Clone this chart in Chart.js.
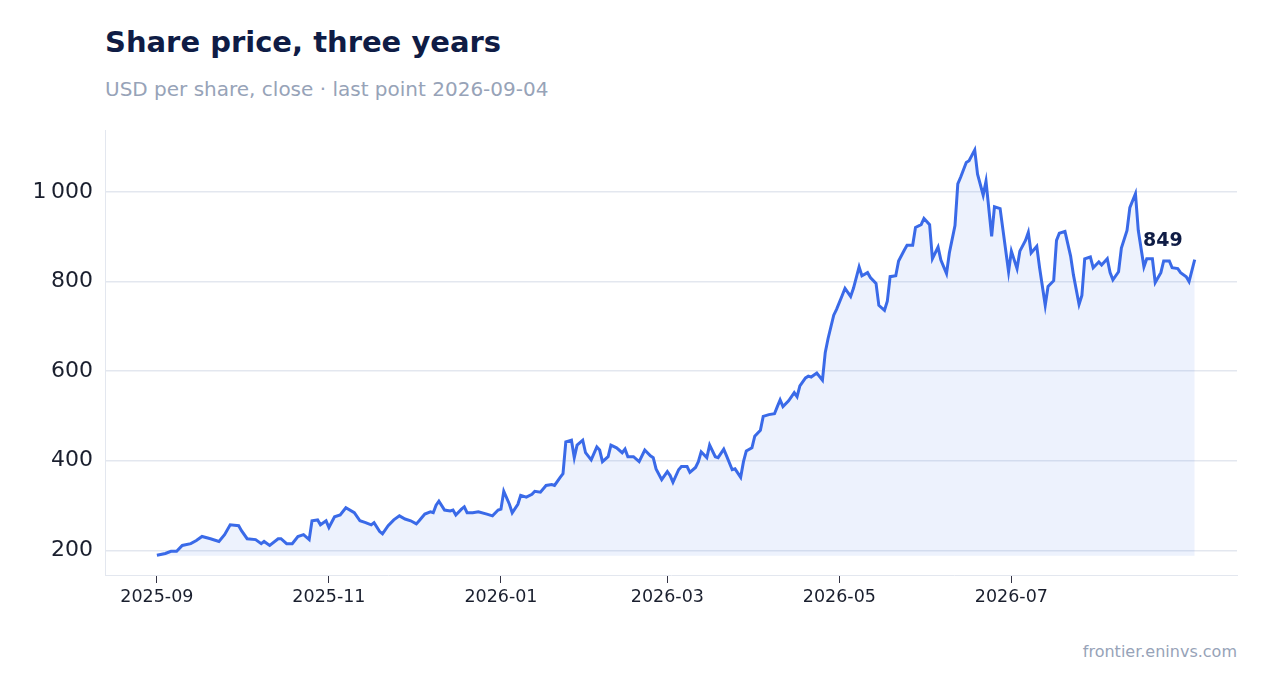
<!DOCTYPE html>
<html>
<head>
<meta charset="utf-8">
<script src="https://cdn.jsdelivr.net/npm/chart.js@4"></script>
<style>
  body { margin: 0; background: #fff; font-family: "DejaVu Sans", sans-serif; }
  #title { position: absolute; left: 105px; top: 25px; font-size: 29px; font-weight: bold; color: #0f1c45; }
  #sub { position: absolute; left: 105px; top: 77px; font-size: 20px; color: #97a3b8; }
  #foot { position: absolute; right: 30px; top: 642px; font-size: 16px; color: #97a3b8; }
  #wrap { position: absolute; left: 0; top: 105px; width: 1267px; height: 518px; }
</style>
</head>
<body>
<div id="title">Share price, three years</div>
<div id="sub">USD per share, close · last point 2026-09-04</div>
<div id="foot">frontier.eninvs.com</div>
<div id="wrap"><canvas id="lineChart1"></canvas></div>
<script>
// days since 2025-09-01
var days = [0,3,5,7,9,12,14,16,19,22,24,26,29,30,32,35,37,38,40,43,44,46,48,50,52,54,55,57,58,60,61,63,65,67,70,72,74,76,77,79,80,82,84,86,88,90,92,93,95,97,98,99,100,102,104,105,106,108,109,110,112,114,117,119,121,122,123,125,126,128,129,131,133,134,136,138,140,141,143,144,145,147,148,149,151,152,154,156,157,158,160,161,163,165,166,167,169,171,173,175,176,177,179,181,182,183,185,186,188,189,191,192,193,195,196,198,199,201,202,204,205,207,208,209,211,212,214,215,217,219,220,221,222,224,226,227,228,230,231,232,234,236,237,238,240,241,243,244,246,247,249,250,252,253,255,256,258,259,260,262,263,265,266,268,269,271,272,274,275,277,278,280,281,283,284,285,287,288,290,291,293,294,296,297,299,300,302,303,305,306,308,309,310,312,313,315,316,318,319,320,322,324,325,327,328,329,331,332,334,335,337,338,339,341,342,344,345,347,348,350,351,353,354,356,357,359,360,362,363,365,366,368];
var prices = [189,193,198,198,211,215,222,231,226,220,235,257,255,244,226,224,215,220,211,226,226,215,215,231,235,224,266,268,257,266,251,275,279,295,284,266,262,257,262,242,237,255,268,277,270,266,259,266,281,286,284,301,310,290,288,290,279,292,297,284,284,286,281,277,290,292,332,303,284,303,323,319,325,332,330,345,347,345,363,371,442,446,407,435,446,418,402,431,424,398,409,435,429,418,426,409,409,398,424,411,407,382,358,376,367,352,380,387,387,374,385,398,420,407,435,409,407,426,411,380,382,363,398,422,429,455,468,499,503,505,521,536,521,534,552,543,567,585,589,587,596,580,642,673,725,738,769,785,767,785,833,813,820,809,796,747,736,756,811,813,846,870,881,881,921,927,941,927,851,877,848,818,864,925,1018,1033,1066,1070,1094,1040,993,1024,901,967,963,916,822,868,829,868,892,910,864,879,831,747,789,802,892,908,912,857,815,749,769,851,855,831,844,837,851,820,804,822,875,914,965,996,914,833,851,851,798,820,846,846,831,829,820,811,800,849];
var monthTicks = [0,61,122,181,242,303];
var monthLabels = ["2025-09","2025-11","2026-01","2026-03","2026-05","2026-07"];
var yTicks = [200,400,600,800,1000];
var lastLabel = "849";

var points = days.map(function (d, i) { return { x: d, y: prices[i] }; });

function fmt(v) {
    if (v >= 1000) return Math.floor(v / 1000) + "\u202f" + String(v % 1000).padStart(3, "0");
    return String(v);
}

var lastLabelPlugin = {
    id: "lastLabel",
    afterDatasetsDraw: function (chart) {
        var meta = chart.getDatasetMeta(0);
        var p = meta.data[meta.data.length - 1];
        var c = chart.ctx;
        c.save();
        c.font = "bold 19px 'DejaVu Sans'";
        c.fillStyle = "#0f1c45";
        c.textAlign = "right";
        c.fillText(lastLabel, p.x - 12, p.y - 14);
        c.restore();
    }
};

var ctx1 = document.getElementById("lineChart1").getContext("2d");
var lineChart1 = new Chart(ctx1, {
    type: "line",
    data: {
        datasets: [
            {
                data: points,
                borderColor: "#3a6ae8",
                backgroundColor: "rgba(58, 106, 232, 0.09)",
                borderWidth: 3,
                pointRadius: 0,
                tension: 0,
                fill: { value: 188 },
            },
        ],
    },
    options: {
        responsive: true,
        maintainAspectRatio: false,
        animation: false,
        layout: { padding: { top: 0, right: 30, left: 0, bottom: 0 } },
        plugins: { legend: { display: false }, tooltip: { enabled: false } },
        scales: {
            x: {
                type: "linear",
                min: -18.4,
                max: 383,
                afterBuildTicks: function (s) { s.ticks = monthTicks.map(function (v) { return { value: v }; }); },
                afterFit: function (s) { s.height = 48; },
                ticks: {
                    callback: function (v) { return monthLabels[monthTicks.indexOf(v)]; },
                    color: "#1a1f2e",
                    font: { size: 17.5, family: "DejaVu Sans" },
                    maxRotation: 0,
                    autoSkip: false,
                    padding: 4,
                },
                grid: { display: true, drawOnChartArea: false, drawTicks: true, tickLength: 8, color: "#334" },
                border: { color: "#e3e7ef" },
            },
            y: {
                min: 145,
                max: 1138,
                afterBuildTicks: function (s) { s.ticks = yTicks.map(function (v) { return { value: v }; }); },
                afterFit: function (s) { s.width = 105; },
                ticks: {
                    callback: function (v) { return fmt(v); },
                    color: "#1a1f2e",
                    font: { size: 22, family: "DejaVu Sans" },
                    padding: 12,
                },
                grid: { color: "#e3e7ef", lineWidth: 1.5, drawTicks: false },
                border: { color: "#e3e7ef" },
            },
        },
    },
    plugins: [lastLabelPlugin],
});
</script>
</body>
</html>
